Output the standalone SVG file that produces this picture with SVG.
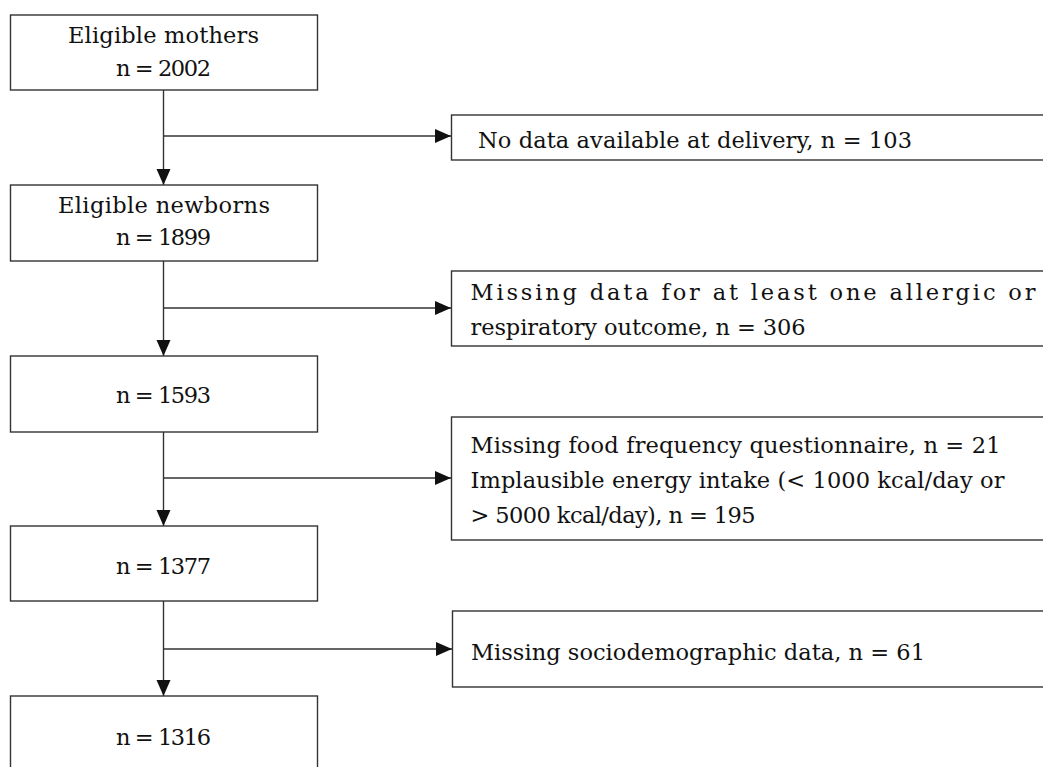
<svg xmlns="http://www.w3.org/2000/svg" width="1043" height="767" viewBox="0 0 1043 767">
<style>
.box{fill:#fff;stroke:#333;stroke-width:1.4}
.t{font-family:"DejaVu Serif","Liberation Serif",serif;font-size:22.5px;fill:#111}
.c{text-anchor:middle}
.ln{fill:none;stroke:#333;stroke-width:1.4}
</style>
<defs>
<marker id="ah" markerUnits="userSpaceOnUse" markerWidth="16" markerHeight="16" viewBox="0 0 16 16" refX="16" refY="8" orient="auto">
<path d="M0,1 L16,8 L0,15 Z" fill="#111"/>
</marker>
</defs>
<rect width="1043" height="767" fill="#fff"/>
<g id="connectors">
<path class="ln" d="M163.5,90 V185" marker-end="url(#ah)"/>
<path class="ln" d="M163.5,136 H451" marker-end="url(#ah)"/>
<path class="ln" d="M163.5,261 V356" marker-end="url(#ah)"/>
<path class="ln" d="M163.5,308 H451" marker-end="url(#ah)"/>
<path class="ln" d="M163.5,432 V526" marker-end="url(#ah)"/>
<path class="ln" d="M163.5,478 H451" marker-end="url(#ah)"/>
<path class="ln" d="M163.5,601 V696" marker-end="url(#ah)"/>
<path class="ln" d="M163.5,649 H452" marker-end="url(#ah)"/>
</g>
<g id="n1"><rect class="box" x="10.5" y="15" width="307" height="75"/>
<text class="t c" x="163.5" y="43" textLength="191" lengthAdjust="spacing">Eligible mothers</text>
<text class="t c" x="163.5" y="76" textLength="95" lengthAdjust="spacing">n = 2002</text></g>
<g id="n2"><rect class="box" x="10.5" y="185" width="307" height="76"/>
<text class="t c" x="164" y="213" textLength="212" lengthAdjust="spacing">Eligible newborns</text>
<text class="t c" x="163.5" y="245" textLength="95" lengthAdjust="spacing">n = 1899</text></g>
<g id="n3"><rect class="box" x="10.5" y="356" width="307" height="76"/>
<text class="t c" x="163.5" y="403" textLength="95" lengthAdjust="spacing">n = 1593</text></g>
<g id="n4"><rect class="box" x="10.5" y="526" width="307" height="75"/>
<text class="t c" x="163.5" y="574" textLength="95" lengthAdjust="spacing">n = 1377</text></g>
<g id="n5"><rect class="box" x="10.5" y="696" width="307" height="80"/>
<text class="t c" x="163.5" y="745" textLength="95" lengthAdjust="spacing">n = 1316</text></g>
<g id="e1"><rect class="box" x="451.5" y="115" width="620" height="45"/>
<text class="t" x="478" y="148" textLength="434" lengthAdjust="spacing">No data available at delivery, n = 103</text></g>
<g id="e2"><rect class="box" x="451.5" y="271" width="620" height="75"/>
<text class="t" x="470.5" y="300" textLength="565" lengthAdjust="spacing">Missing data for at least one allergic or</text>
<text class="t" x="470.5" y="335" textLength="335" lengthAdjust="spacing">respiratory outcome, n = 306</text></g>
<g id="e3"><rect class="box" x="451.5" y="417" width="620" height="123"/>
<text class="t" x="470.5" y="453" textLength="530" lengthAdjust="spacing">Missing food frequency questionnaire, n = 21</text>
<text class="t" x="470.5" y="488" textLength="534" lengthAdjust="spacing">Implausible energy intake (&lt; 1000 kcal/day or</text>
<text class="t" x="470.5" y="523" textLength="285" lengthAdjust="spacing">&gt; 5000 kcal/day), n = 195</text></g>
<g id="e4"><rect class="box" x="452.5" y="611" width="620" height="76"/>
<text class="t" x="471" y="660" textLength="454" lengthAdjust="spacing">Missing sociodemographic data, n = 61</text></g>
</svg>
